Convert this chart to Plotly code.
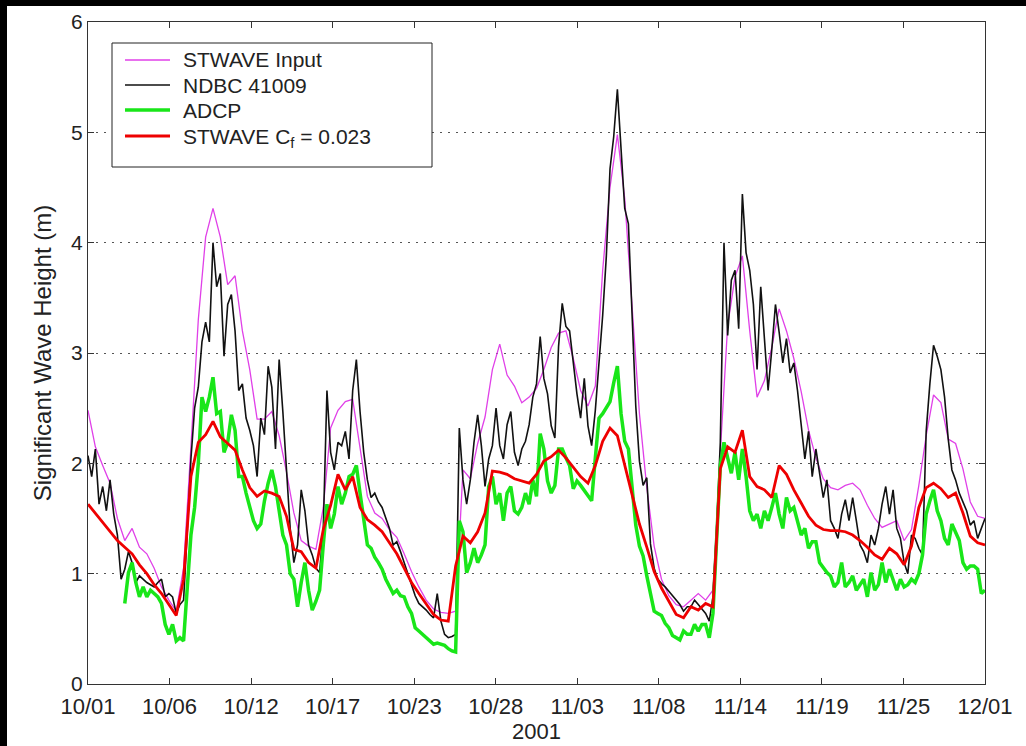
import numpy as np
import plotly.graph_objects as go

# days since 10/01/2001
tick_text = ["10/01", "10/06", "10/12", "10/17", "10/23", "10/28",
             "11/03", "11/08", "11/14", "11/19", "11/25", "12/01"]

series_names = ["STWAVE Input", "NDBC 41009", "ADCP", "STWAVE C<sub>f</sub> = 0.023"]

# STWAVE input, every 12 h from day 0
stwave_input = [
    2.48, 2.15, 1.98, 1.82, 1.5, 1.3, 1.41, 1.24, 1.18, 1.05, 0.88, 0.76,
    0.66, 1.05, 2.15, 3.3, 4.05, 4.31, 4.05, 3.62, 3.7, 3.2, 2.85, 2.4,
    2.4, 2.47, 2.25, 1.92, 1.55, 1.3, 1.25, 1.22, 1.6, 2.32, 2.48, 2.56,
    2.58, 2.15, 1.7, 1.55, 1.5, 1.4, 1.33, 1.18, 1.02, 0.88, 0.76, 0.68,
    0.65, 0.64, 0.66, 1.94, 1.86, 2.18, 2.42, 2.85, 3.08, 2.8, 2.7, 2.55,
    2.6, 2.68, 2.85, 3.05, 3.18, 3.2, 2.95, 2.66, 2.52, 2.7, 3.75, 4.5,
    4.98, 4.4, 3.45, 2.45, 1.78, 1.25, 0.95, 0.8, 0.72, 0.7, 0.76, 0.82,
    0.76, 0.85, 2.1, 3.25, 3.69, 3.88, 3.2, 2.6, 2.75, 3.05, 3.4, 3.2,
    2.95, 2.65, 2.3, 2.05, 1.86, 1.78, 1.76, 1.8, 1.82, 1.76, 1.62, 1.5,
    1.42, 1.45, 1.48, 1.3, 1.4, 1.8, 2.25, 2.62, 2.55, 2.22, 2.18, 1.95,
    1.65, 1.52, 1.5,
]

# STWAVE Cf = 0.023, every 12 h from day 0
stwave_cf = [
    1.63, 1.55, 1.46, 1.38, 1.3, 1.24, 1.18, 1.08, 1.0, 0.9, 0.82, 0.72,
    0.62, 0.95, 1.88, 2.19, 2.26, 2.38, 2.24, 2.18, 2.12, 1.94, 1.78, 1.7,
    1.75, 1.73, 1.7, 1.52, 1.22, 1.2, 1.1, 1.05, 1.4, 1.62, 1.9, 1.76,
    1.88, 1.6, 1.49, 1.44, 1.38, 1.28, 1.18, 1.05, 0.92, 0.82, 0.73, 0.63,
    0.58, 0.57, 1.07, 1.34, 1.28, 1.38, 1.55, 1.93, 1.92, 1.9, 1.86, 1.84,
    1.82, 1.9, 2.02, 2.06, 2.12, 2.05, 1.96, 1.88, 1.82, 1.98, 2.2, 2.32,
    2.25, 1.98, 1.7, 1.45, 1.24, 1.02, 0.87, 0.75, 0.63, 0.6, 0.7, 0.67,
    0.73, 0.7, 1.95, 2.15, 2.1, 2.3, 1.88, 1.79, 1.76, 1.69, 1.98, 1.9,
    1.76, 1.64, 1.52, 1.44, 1.4, 1.39, 1.39, 1.38, 1.35, 1.3, 1.24, 1.17,
    1.13, 1.23, 1.18, 1.08, 1.25, 1.6, 1.78, 1.82, 1.77, 1.69, 1.73, 1.55,
    1.34, 1.28, 1.26,
]

# NDBC 41009, every 6 h from day 0
ndbc = [
    2.07, 1.88, 2.13, 1.63, 1.79, 1.57, 1.85, 1.54, 1.35, 0.95, 1.04, 1.2,
    1.1, 0.92, 0.98, 0.95, 0.92, 0.9, 0.88, 0.92, 0.95, 0.79, 0.82, 0.79,
    0.64, 0.72, 0.76, 1.38, 2.04, 2.5, 2.69, 3.1, 3.28, 3.1, 4.0, 3.6,
    3.72, 2.97, 3.44, 3.53, 3.2, 2.66, 2.72, 2.41, 2.3, 2.16, 1.88, 2.41,
    2.26, 2.88, 2.69, 2.13, 2.94, 2.47, 1.88, 1.41, 1.1, 1.26, 1.76, 1.57,
    1.26, 1.17, 1.05, 1.01, 1.41, 2.66, 2.1, 1.94, 2.19, 2.16, 2.29, 2.04,
    2.66, 2.94, 2.47, 2.1, 1.85, 1.69, 1.73, 1.65, 1.6, 1.5, 1.41, 1.26,
    1.29, 1.2, 1.1, 0.98, 0.88, 0.8, 0.73, 0.7, 0.67, 0.63, 0.6, 0.82,
    0.57, 0.45, 0.42, 0.43, 0.45, 2.32, 1.85, 1.63, 1.85, 2.19, 2.44, 2.16,
    1.79, 2.04, 2.16, 2.5, 2.16, 2.04, 2.35, 2.47, 2.1, 1.98, 2.13, 2.2,
    2.35, 2.6, 2.72, 3.15, 2.77, 2.63, 2.34, 2.23, 3.06, 3.45, 3.24, 3.2,
    2.91, 2.63, 2.41, 2.77, 2.34, 2.16, 2.48, 2.88, 3.34, 3.88, 4.67, 4.96,
    5.39, 4.85, 4.31, 4.17, 3.42, 2.52, 2.02, 1.8, 1.87, 1.27, 1.05, 0.95,
    0.91, 0.88, 0.84, 0.8, 0.76, 0.72, 0.66, 0.7, 0.7, 0.76, 0.72, 0.68,
    0.64, 0.57, 0.79, 1.41, 2.19, 4.0, 3.16, 3.66, 3.75, 3.22, 4.44, 3.91,
    3.75, 3.44, 2.85, 3.6, 3.1, 2.66, 3.03, 3.44, 3.19, 2.91, 3.13, 2.82,
    2.91, 2.66, 2.35, 2.04, 2.29, 1.88, 2.13, 1.91, 1.69, 1.85, 1.48, 1.41,
    1.32, 1.54, 1.67, 1.48, 1.69, 1.48, 1.26, 1.2, 1.1, 1.35, 1.26, 1.41,
    1.63, 1.79, 1.54, 1.76, 1.41, 1.32, 1.1, 1.0, 1.35, 1.32, 1.23, 1.17,
    2.29, 2.72, 3.07, 2.97, 2.85, 2.6, 2.22, 1.94, 1.85, 1.73, 1.65, 1.57,
    1.44, 1.48, 1.32, 1.41, 1.5,
]

# ADCP, every 6 h from day 2.5
adcp = [
    0.73, 1.01,
    1.1, 0.92, 0.79, 0.88, 0.79, 0.85, 0.82, 0.79, 0.73, 0.54, 0.45, 0.54,
    0.39, 0.42, 0.39, 0.85, 1.35, 1.6, 2.0, 2.6, 2.47, 2.6, 2.78, 2.45,
    2.47, 2.1, 2.19, 2.44, 2.3, 1.88, 1.88, 1.73, 1.6, 1.48, 1.41, 1.45,
    1.66, 1.82, 1.94, 1.79, 1.57, 1.35, 1.26, 1.0, 0.95, 0.7, 0.92, 1.1,
    0.85, 0.67, 0.75, 0.85, 1.26, 1.63, 1.41, 1.54, 1.79, 1.63, 1.73, 1.88,
    1.9, 1.98, 1.73, 1.51, 1.26, 1.23, 1.15, 1.1, 1.04, 0.95, 0.88, 0.82,
    0.85, 0.8, 0.79, 0.7, 0.64, 0.51, 0.48, 0.45, 0.42, 0.4, 0.36, 0.37,
    0.36, 0.35, 0.32, 0.3, 0.29, 1.48, 1.38, 1.01, 1.1, 1.23, 1.1, 1.17,
    1.26, 1.79, 1.88, 1.63, 1.73, 1.48, 1.73, 1.79, 1.57, 1.54, 1.6, 1.73,
    1.63, 1.85, 1.7, 2.27, 2.13, 1.84, 1.73, 1.8, 2.13, 2.13, 2.05, 1.98,
    1.77, 1.84, 1.8, 1.75, 1.7, 1.66, 2.05, 2.41, 2.45, 2.5, 2.56, 2.73,
    2.88, 2.45, 2.2, 2.13, 1.8, 1.44, 1.25, 1.16, 0.98, 0.8, 0.66, 0.64,
    0.62, 0.55, 0.51, 0.44, 0.42, 0.4, 0.48, 0.45, 0.45, 0.54, 0.48, 0.54,
    0.54, 0.42, 0.64, 1.26, 1.98, 2.19, 2.04, 1.91, 2.1, 1.85, 2.13, 1.88,
    1.57, 1.48, 1.54, 1.41, 1.57, 1.48, 1.6, 1.73, 1.54, 1.41, 1.69, 1.57,
    1.6, 1.48, 1.35, 1.41, 1.23, 1.29, 1.29, 1.1, 1.05, 1.01, 0.98, 0.88,
    0.92, 1.1, 0.88, 0.92, 0.98, 0.85, 0.9, 0.95, 0.79, 1.01, 0.85, 0.9,
    1.1, 0.92, 1.04, 0.95, 0.85, 0.95, 0.88, 0.9, 0.95, 0.92, 1.0, 1.17,
    1.54, 1.66, 1.76, 1.57, 1.48, 1.32, 1.26, 1.45, 1.38, 1.3, 1.1, 1.04,
    1.07, 1.07, 1.04, 0.82, 0.85,
]

t_input = 0.5 * np.arange(len(stwave_input))
t_cf = 0.5 * np.arange(len(stwave_cf))
t_ndbc = 0.25 * np.arange(len(ndbc))
t_adcp = 2.5 + 0.25 * np.arange(len(adcp))

colors = ["#e040e8", "#111111", "#19e619", "#ee0000"]
widths = [1.3, 1.6, 3.5, 2.8]
font = "Arial, Liberation Sans, sans-serif"

fig = go.Figure()
for t, v, name, c, w in zip([t_input, t_ndbc, t_adcp, t_cf],
                            [stwave_input, ndbc, adcp, stwave_cf],
                            series_names, colors, widths):
    fig.add_trace(go.Scatter(x=t, y=v, mode="lines", name=name,
                             line=dict(color=c, width=w), showlegend=False))

# the page gets a black frame of 7 px (left) and 6 px (top) from CSS,
# the figure sits inside it; plot area is 88..985 x 22..684 in page pixels
FL, FT = 7, 6
W, H = 1026 - FL, 746 - FT
L, T = 88 - FL, 22 - FT
R, B = 41, 62
pw, ph = W - L - R, H - T - B


def px(x):
    return (x - 88) / pw


def py(y):
    return (684 - y) / ph


# legend drawn by hand to match the original box
shapes = [
    dict(type="rect", xref="paper", yref="paper", x0=px(112), x1=px(432), y0=py(167), y1=py(43),
         fillcolor="white", line=dict(color="#222222", width=1), layer="above"),
]
annotations = []
line_rows = [60, 85, 110, 136]
text_rows = [60, 85, 110, 138]
for r, tr, name, c, w in zip(line_rows, text_rows, series_names, colors, widths):
    shapes.append(dict(type="line", xref="paper", yref="paper", x0=px(125), x1=px(170),
                       y0=py(r), y1=py(r), line=dict(color=c, width=w), layer="above"))
    annotations.append(dict(xref="paper", yref="paper", x=px(181), y=py(tr), text=name,
                            showarrow=False, xanchor="left", yanchor="middle",
                            font=dict(size=21, color="#222222")))

fig.update_layout(
    width=W, height=H,
    margin=dict(l=L, r=R, t=T, b=B),
    paper_bgcolor="white", plot_bgcolor="white",
    font=dict(family=font, size=21, color="#222222"),
    shapes=shapes, annotations=annotations,
)

fig.update_xaxes(
    range=[0, 61], tickmode="array", automargin=False,
    tickvals=np.linspace(0, 61, len(tick_text)), ticktext=tick_text,
    ticks="inside", ticklen=6, tickcolor="#333333", ticklabelstandoff=3,
    tickfont=dict(size=22),
    showline=True, linecolor="#333333", linewidth=1, mirror="ticks",
    showgrid=False, zeroline=False,
    title=dict(text="2001", standoff=5, font=dict(size=22)),
)
fig.update_yaxes(
    range=[0, 6], dtick=1, automargin=False,
    ticks="inside", ticklen=6, tickcolor="#333333",
    showline=True, linecolor="#333333", linewidth=1, mirror="ticks",
    showgrid=True, gridcolor="#555555", gridwidth=1, griddash="2px,6px",
    zeroline=False,
    title=dict(text="Significant Wave Height (m)", standoff=12, font=dict(size=24)),
)

page_css = ("document.body.style.margin='0px';"
            "document.body.style.borderLeft='7px solid black';"
            "document.body.style.borderTop='6px solid black';")
fig.write_html("out.html", config={"displayModeBar": False}, post_script=page_css)
